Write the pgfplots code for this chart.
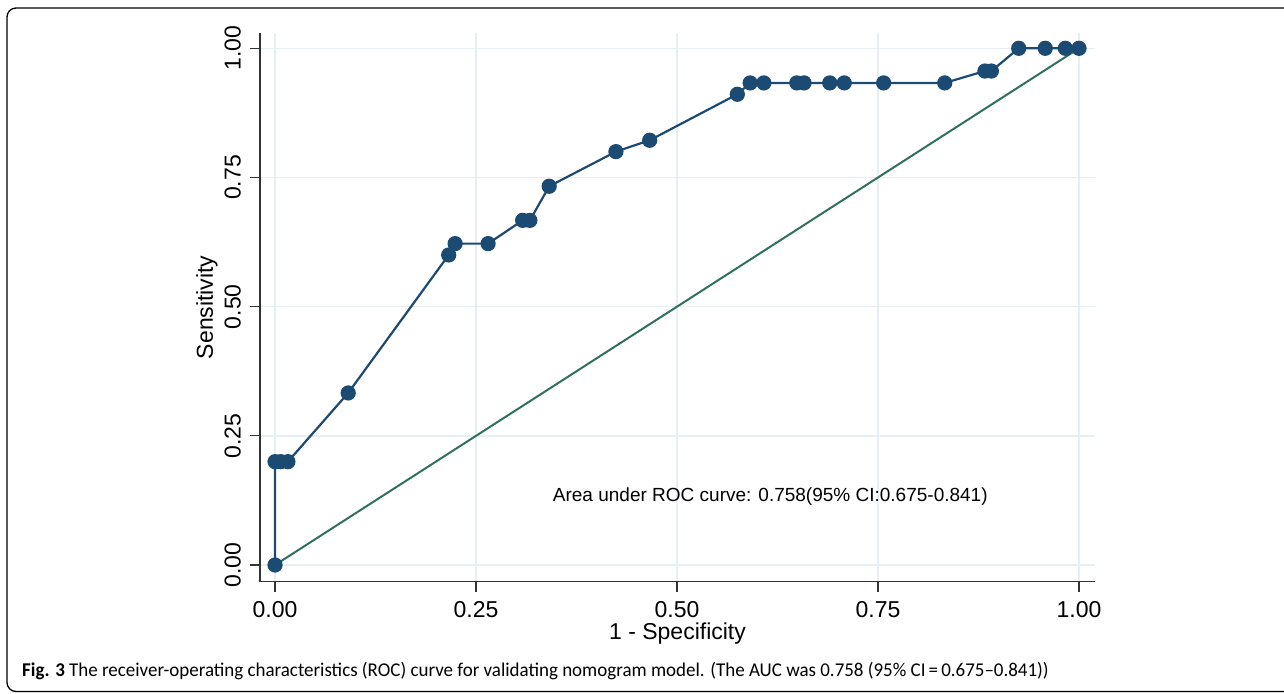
\documentclass[border=0pt]{standalone}
\usepackage{pgfplots}
\pgfplotsset{compat=1.18}
\usepackage{fontspec}
\setmainfont{Liberation Sans}
\newfontfamily\capfont[Ligatures=TeX]{Carlito}
\definecolor{roc}{HTML}{1B4A72}
\definecolor{diag}{HTML}{2F7060}
\definecolor{gridc}{HTML}{E6F0F2}
\begin{document}
\begin{tikzpicture}
\useasboundingbox (0,0) rectangle (1284pt,-693pt);
\draw[line width=1.3pt, rounded corners=9pt] (7pt,-8pt) rectangle (1330pt,-691.5pt);
\begin{axis}[
  at={(260pt,-581.7pt)}, anchor=south west,
  scale only axis, width=835pt, height=548.7pt,
  xmin=-0.0187, xmax=1.0199, ymin=-0.0323, ymax=1.0296,
  axis x line*=bottom, axis y line*=left,
  axis line style={line width=1.2pt, black!80},
  tick align=outside, major tick length=10pt,
  tick style={line width=1.2pt, black!80},
  xtick={0,0.25,0.5,0.75,1}, ytick={0,0.25,0.5,0.75,1},
  xticklabels={0.00,0.25,0.50,0.75,1.00},
  yticklabels={0.00,0.25,0.50,0.75,1.00},
  grid=major, grid style={gridc, line width=1.4pt},
  ticklabel style={font=\fontsize{23}{23}\selectfont},
  xticklabel style={yshift=-26pt, anchor=base},
  yticklabel style={xshift=-9.3pt, rotate=90, anchor=base},
  label style={font=\fontsize{23}{23}\selectfont},
  xlabel={1 - Specificity},
  ylabel={Sensitivity},
  xlabel style={anchor=base, at={(axis description cs:0.5,-0.1062)}},
  ylabel style={anchor=base, at={(axis description cs:-0.0563,0.5)}},
  clip=false,
]
\addplot[diag, line width=2pt] coordinates {(0,0) (1,1)};
\addplot[roc, line width=2.2pt, mark=*, mark size=6.5pt, mark options={fill=roc, draw=roc}] coordinates {
(0,0) (0,0.2) (0.007,0.2) (0.016,0.2) (0.091,0.333) (0.216,0.6) (0.224,0.622)
(0.265,0.622) (0.308,0.667) (0.317,0.667) (0.341,0.733) (0.424,0.8) (0.466,0.822)
(0.575,0.911) (0.591,0.933) (0.608,0.933) (0.649,0.933) (0.658,0.933) (0.690,0.933)
(0.708,0.933) (0.757,0.933) (0.833,0.933) (0.883,0.956) (0.891,0.956) (0.925,1)
(0.958,1) (0.983,1) (1,1)};
\node[anchor=base west, font=\fontsize{19}{19}\selectfont, inner sep=0pt] at (axis cs:0.3454,0.1225) {Area under ROC curve: 0.758(95\% CI:0.675-0.841)};
\end{axis}
\node[anchor=base west, inner sep=0pt, font=\capfont\fontsize{19.5}{19.5}\selectfont] at (22pt,-676.7pt) {\scalebox{0.972}[1]{\textbf{Fig. 3} The receiver-operating characteristics (ROC) curve for validating nomogram model. (The AUC was 0.758 (95\% CI\,=\,0.675–0.841))}};
\end{tikzpicture}
\end{document}
